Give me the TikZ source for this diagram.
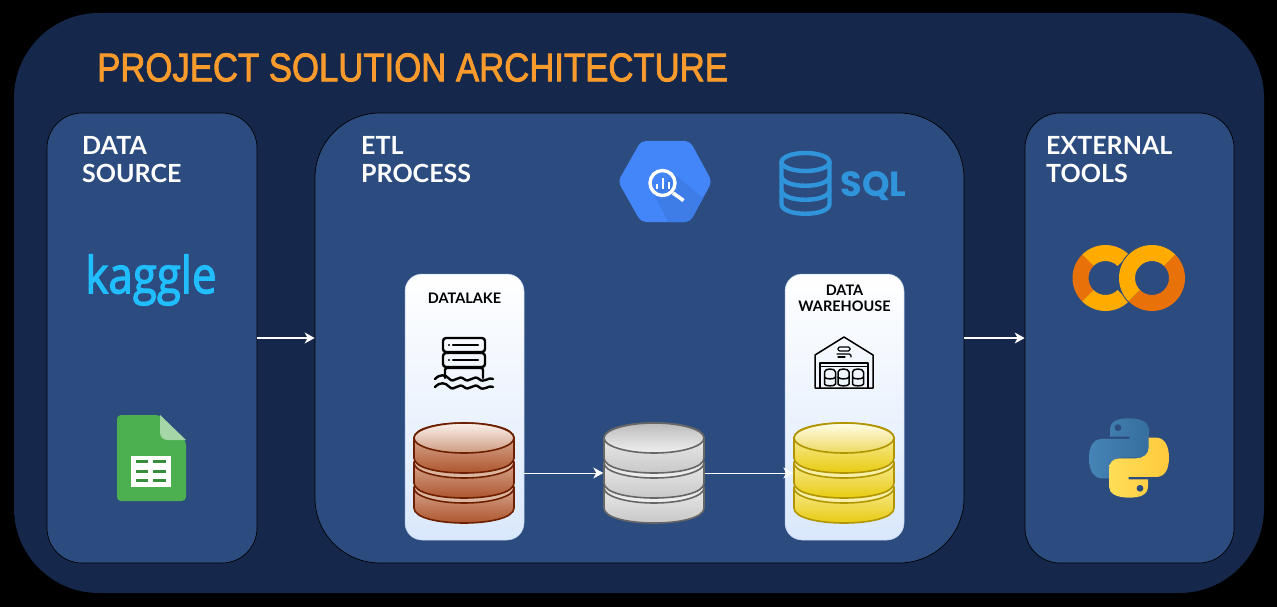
\documentclass[tikz,border=0pt]{standalone}
\usepackage{fontspec}
\setmainfont{Lato}
\newfontfamily\titlefont[FakeBold=2.2]{Liberation Sans}
\newfontfamily\logofont[FakeBold=2.4]{Open Sans}
\newfontfamily\sqlfont{Poppins}
\usetikzlibrary{arrows.meta}
\definecolor{frameblue}{HTML}{15284C}
\definecolor{panelblue}{HTML}{2C4C80}
\definecolor{titleorange}{HTML}{F89A2C}
\definecolor{colaby}{HTML}{FFAB00}
\definecolor{colabo}{HTML}{E8710A}
\definecolor{sqlblue}{HTML}{3094DA}
\definecolor{hexblue}{HTML}{4386FA}
\definecolor{hexshadow}{HTML}{3E7CE8}
\definecolor{sheetgreen}{HTML}{4CAF50}
\definecolor{sheetfold}{HTML}{A5D6A7}
\definecolor{sheetrow}{HTML}{388E3C}
\definecolor{kaggleblue}{HTML}{20BEFF}
\definecolor{cardlow}{HTML}{DAE8FC}
\definecolor{cardedge}{HTML}{B8CCEA}
\definecolor{pybluea}{HTML}{4584B6}
\definecolor{pyblueb}{HTML}{366E9E}
\definecolor{pyyella}{HTML}{FFDE57}
\definecolor{pyyellb}{HTML}{FFC93C}
% brown stack
\definecolor{bredge}{HTML}{6D1F00}
\definecolor{brsidea}{HTML}{EBD3C4}
\definecolor{brsideb}{HTML}{A84A20}
\definecolor{brgapa}{HTML}{D9B09A}
\definecolor{brgapb}{HTML}{DDB7A2}
\definecolor{brfacea}{HTML}{FBF1EC}
\definecolor{brfaceb}{HTML}{CE9B80}
% grey stack
\definecolor{gyedge}{HTML}{666666}
\definecolor{gysidea}{HTML}{FAFAFA}
\definecolor{gysideb}{HTML}{C4C4C4}
\definecolor{gygapa}{HTML}{D8D8D8}
\definecolor{gygapb}{HTML}{F0F0F0}
\definecolor{gyfacea}{HTML}{BCBCBC}
\definecolor{gyfaceb}{HTML}{F0F0F0}
% gold stack
\definecolor{gdedge}{HTML}{B09500}
\definecolor{gdsidea}{HTML}{FFF9D6}
\definecolor{gdsideb}{HTML}{E6C800}
\definecolor{gdgapa}{HTML}{F8EFA8}
\definecolor{gdgapb}{HTML}{F8EFA8}
\definecolor{gdfacea}{HTML}{FFFDE8}
\definecolor{gdfaceb}{HTML}{EDD95F}
\tikzset{
  panel/.style={draw=black,line width=0.7pt,fill=panelblue,rounded corners=#1,inner sep=0pt},
  panelhead/.style={text=white,font=\fontsize{25}{28.5}\selectfont\bfseries,align=left,anchor=north west,inner sep=0pt},
  card/.style={draw=cardedge,line width=0.5pt,rounded corners=17pt,top color=white,bottom color=cardlow,minimum width=119pt,minimum height=266pt,inner sep=0pt},
  cardhead/.style={text=black,font=\fontsize{14.5}{16}\selectfont\bfseries,align=center,inner sep=0pt},
  dbbox/.style={minimum width=101pt,minimum height=101pt,inner sep=0pt},
  flow/.style={draw=white,line width=1.4pt,-{Stealth[length=10pt,width=11pt,inset=3pt]}},
  thinflow/.style={draw=white,line width=0.9pt,-{Stealth[length=10pt,width=11pt,inset=3pt]}},
  icon/.style={line width=2.4pt,draw=black,line join=round,line cap=round},
}
% one disc of a stacked database: centre x, ellipse centre y, edge, side light, side dark, face top, face bottom
\newcommand{\dbdisc}[7]{
  \path[draw=#3,line width=1.6pt,top color=#4,bottom color=#5]
    (#1-50,#2) -- (#1-50,#2+20) .. controls (#1-50,#2+40) and (#1+50,#2+40) .. (#1+50,#2+20) -- (#1+50,#2)
    .. controls (#1+50,#2-20) and (#1-50,#2-20) .. (#1-50,#2) -- cycle;
  \path[draw=#3,line width=1.6pt,top color=#6,bottom color=#7] (#1,#2) ellipse [x radius=50pt,y radius=15pt];
}
% x, prefix of the colour names
\newcommand{\dbstack}[2]{
  \dbdisc{#1}{488}{#2edge}{#2sidea}{#2sideb}{#2gapa}{#2gapb}
  \dbdisc{#1}{463}{#2edge}{#2sidea}{#2sideb}{#2gapa}{#2gapb}
  \dbdisc{#1}{438}{#2edge}{#2sidea}{#2sideb}{#2facea}{#2faceb}
}
\newcommand{\colabseg}[3]{
  \fill[#3] (#1:33pt) arc[start angle=#1,end angle=#2,radius=33pt] -- (#2:17pt) arc[start angle=#2,end angle=#1,radius=17pt] -- cycle;
}
\begin{document}
\begin{tikzpicture}[x=1pt,y=-1pt]
\useasboundingbox (0,0) rectangle (1277,607);
\fill[black] (0,0) rectangle (1277,607);
\node[fill=frameblue,rounded corners=85pt,minimum width=1250pt,minimum height=580pt,inner sep=0pt] (frame) at (639,303) {};
\node[anchor=west,inner sep=0pt,text=titleorange] (title) at (97,67.5) {\scalebox{0.868}[1]{\fontsize{40}{44}\titlefont PROJECT SOLUTION ARCHITECTURE}};

\node[panel=35pt,minimum width=210pt,minimum height=450pt] (source) at (152,338) {};
\node[panel=65pt,minimum width=649pt,minimum height=450pt] (etl) at (639.5,338) {};
\node[panel=35pt,minimum width=209pt,minimum height=450pt] (tools) at (1129.5,338) {};

\node[panelhead] (sourcehead) at (82,136) {DATA\\SOURCE};
\node[panelhead] (etlhead) at (361,136) {ETL\\PROCESS};
\node[panelhead] (toolshead) at (1046,136) {EXTERNAL\\TOOLS};

% kaggle
\node[text=kaggleblue,inner sep=0pt,font=\fontsize{51}{55}\logofont] (kaggle) at (151,280) {\scalebox{0.86}[1]{kaggle}};

% sheets
\path[fill=sheetgreen,rounded corners=4pt] (117,415) -- (160,415) -- (186,441) -- (186,501) -- (117,501) -- cycle;
\path[fill=sheetfold] (160,415) -- (186,440) -- (168,440) .. controls (163,440) and (160,437) .. (160,432) -- cycle;
\fill[white] (131,456) rectangle (171,487);
\foreach \yy in {461,471,480}{
  \fill[sheetrow] (136,\yy-1.5) rectangle (148,\yy+1.5);
  \fill[sheetrow] (153,\yy-1.5) rectangle (166,\yy+1.5);
}

% BigQuery
\begin{scope}
  \path[clip,rounded corners=5pt] (618,181.5) -- (641,141) -- (690,141) -- (712,181.5) -- (690,222) -- (641,222) -- cycle;
  \fill[hexblue] (610,135) rectangle (720,230);
  \fill[hexshadow] (674,174) -- (720,212) -- (720,230) -- (672,230) -- (654,194) -- cycle;
\end{scope}
\draw[white,line width=3.4pt] (662.5,183) circle (12.5pt);
\draw[white,line width=3.6pt] (673,193) -- (683.5,200.5);
\draw[white,line width=2pt] (656.5,184) -- (656.5,189);
\draw[white,line width=2pt] (662.5,178) -- (662.5,189);
\draw[white,line width=2pt] (668.5,182) -- (668.5,189);

% SQL
\begin{scope}[draw=sqlblue,line width=4.4pt]
  \draw (805.5,162) ellipse [x radius=24pt,y radius=9pt];
  \draw (781.5,162) -- (781.5,204) .. controls (781.5,217) and (829.5,217) .. (829.5,204) -- (829.5,162);
  \draw (781.5,176) .. controls (781.5,189) and (829.5,189) .. (829.5,176);
  \draw (781.5,190) .. controls (781.5,203) and (829.5,203) .. (829.5,190);
\end{scope}
\node[inner sep=0pt,text=sqlblue,font=\fontsize{35}{37}\sqlfont\bfseries] (sqltext) at (873.5,186) {SQL};

% cards
\node[card] (lakecard) at (464.5,407) {};
\node[card] (whcard) at (844.5,407) {};
\node[cardhead] (lakehead) at (464.5,298) {DATALAKE};
\node[cardhead] (whhead) at (844.5,298) {DATA\\WAREHOUSE};

% datalake icon
\begin{scope}[icon]
  \draw[rounded corners=3pt] (443,338) rectangle (485,352);
  \draw[rounded corners=3pt] (443,353) rectangle (485,367);
  \draw[rounded corners=2pt] (445,378) -- (445,368) -- (483,368) -- (483,378);
  \draw (453,345) -- (478,345);
  \draw (453,360) -- (478,360);
  \fill (449,345) circle (1.1pt);
  \fill (449,360) circle (1.1pt);
  \draw (435,379) .. controls (440,374) and (445,374) .. (449.5,379) .. controls (454,384) and (459,374) .. (464,379)
     .. controls (469,384) and (474,374) .. (479,379) .. controls (484,384) and (489,376) .. (493,379);
  \draw (435,387) .. controls (440,382) and (445,382) .. (449.5,387) .. controls (454,392) and (459,382) .. (464,387)
     .. controls (469,392) and (474,382) .. (479,387) .. controls (484,392) and (489,384) .. (493,387);
\end{scope}

% warehouse icon
\begin{scope}[icon,line width=1.5pt]
  \draw (815,388) -- (815,355) -- (844,337) -- (873,355) -- (873,388) -- cycle;
  \draw (820,388) -- (820,363) -- (868,363) -- (868,388);
  \draw (820,366.5) -- (868,366.5);
  \foreach \cx in {830,843.5,858}{
    \draw (\cx-5.5,372) -- (\cx-5.5,384) .. controls (\cx-5.5,386.5) and (\cx+5.5,386.5) .. (\cx+5.5,384) -- (\cx+5.5,372)
       .. controls (\cx+5.5,368) and (\cx-5.5,368) .. (\cx-5.5,372) -- cycle;
    \draw (\cx-5.5,377) .. controls (\cx-5.5,379.5) and (\cx+5.5,379.5) .. (\cx+5.5,377);
  }
  \draw[rounded corners=1.5pt,line width=1.2pt] (838,347) rectangle (850,351);
  \draw[rounded corners=1.5pt,line width=1.2pt] (837,354) -- (851,354) -- (851,357);
  \draw[line width=1.2pt] (838,357) -- (845,357);
\end{scope}

% databases
\node[dbbox] (lakedb) at (464,473) {};
\dbstack{464}{br}
\node[dbbox] (middb) at (654,473) {};
\dbstack{654}{gy}
\node[dbbox] (whdb) at (844,473) {};
\dbstack{844}{gd}

% connectors
\draw[flow] (source.east) -- (etl.west);
\draw[flow] (etl.east) -- (tools.west);
\draw[thinflow] (lakecard.east |- lakedb) -- (middb.west);
\draw[thinflow] (middb.east) -- (whdb.west);

% colab
\begin{scope}[shift={(1105.5,278)}]
  \colabseg{45}{135}{colaby}
  \colabseg{135}{225}{colabo}
  \colabseg{225}{315}{colaby}
\end{scope}
\begin{scope}[shift={(1152,278)}]
  \fill[panelblue] (0,0) circle (34pt);
  \colabseg{45}{225}{colaby}
  \colabseg{225}{405}{colabo}
\end{scope}

% python
\begin{scope}[shift={(1050,230)},x=0.3333pt,y=-0.3333pt]
  \path[left color=pybluea,right color=pyblueb] (237,565) .. controls (200,565) and (180,575) .. (180,600) -- (180,620) -- (238,620) -- (238,627) -- (155,627)
     .. controls (130,627) and (117,650) .. (117,685) .. controls (117,722) and (132,745) .. (155,745) -- (178,745) -- (178,715)
     .. controls (178,695) and (195,683) .. (215,683) -- (265,683) .. controls (285,683) and (297,670) .. (297,650) -- (297,598)
     .. controls (297,578) and (275,565) .. (237,565) -- cycle;
  \path[left color=pyyella,right color=pyyellb] (237,803) .. controls (274,803) and (294,793) .. (294,768) -- (294,748) -- (236,748) -- (236,741) -- (319,741)
     .. controls (344,741) and (357,718) .. (357,683) .. controls (357,646) and (342,623) .. (319,623) -- (296,623) -- (296,653)
     .. controls (296,673) and (279,685) .. (259,685) -- (209,685) .. controls (189,685) and (177,698) .. (177,718) -- (177,770)
     .. controls (177,790) and (199,803) .. (237,803) -- cycle;
  \fill[panelblue] (204,593) circle (3.4pt);
  \fill[panelblue] (270,775) circle (3.4pt);
\end{scope}
\end{tikzpicture}
\end{document}
